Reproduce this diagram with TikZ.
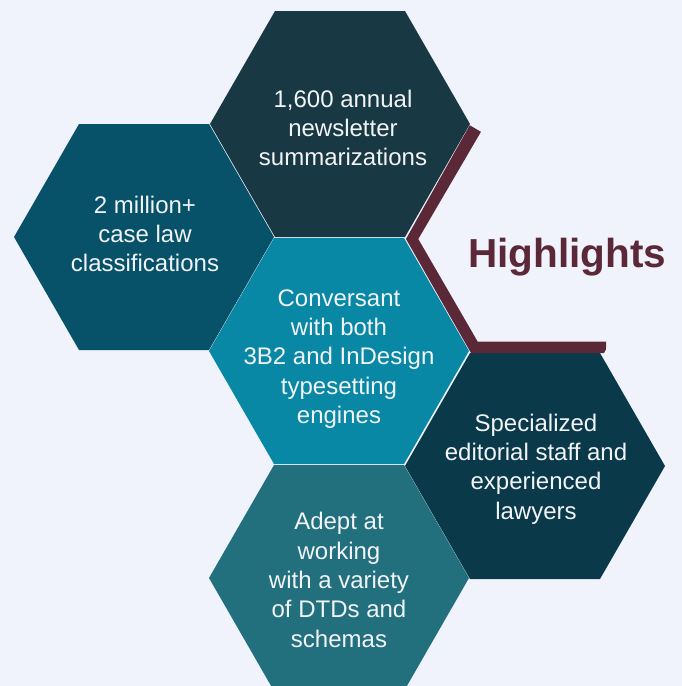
\documentclass[tikz,border=0pt]{standalone}
\usepackage{fontspec}
\setmainfont{Liberation Sans}
\definecolor{bgc}{HTML}{F0F3FC}
\definecolor{hexa}{HTML}{183843}
\definecolor{hexb}{HTML}{075269}
\definecolor{hexc}{HTML}{0888A4}
\definecolor{hexd}{HTML}{0A394A}
\definecolor{hexe}{HTML}{226F7E}
\definecolor{maroonc}{HTML}{5B2838}
\definecolor{txtc}{HTML}{F2F4F8}
\newcommand\hexshape{(130,0) -- (65,-113) -- (-65,-113) -- (-130,0) -- (-65,113) -- (65,113) -- cycle}
\tikzset{
  txt/.style={text=txtc, align=center, inner sep=0pt, font=\fontsize{24}{29.3}\selectfont},
  title/.style={text=maroonc, inner sep=0pt, font=\fontsize{40.5}{44}\selectfont\bfseries},
}
\begin{document}
\begin{tikzpicture}[x=1pt,y=-1pt]
\fill[bgc] (0,0) rectangle (682,686);
\useasboundingbox (0,0) rectangle (682,686);
\begin{scope}
\clip (0,0) rectangle (682,686);
% hexagons
\fill[hexa, shift={(340,124)}] \hexshape;
\fill[hexb, shift={(144,237)}] \hexshape;
\fill[hexc, shift={(339,351)}] \hexshape;
\fill[hexd, shift={(535,466)}] \hexshape;
\fill[hexe, shift={(339,578)}] \hexshape;
% maroon frame of the Highlights cell
\begin{scope}[shift={(536,239)}]
\clip (130,0) -- (65,-116) -- (-65,-116) -- (-130,0) -- (-65,114) -- (68,114) -- cycle;
\draw[maroonc, line width=23pt, line join=miter] (-65,-113) -- (-131,0) -- (-65,114) -- (70,114);
\end{scope}
\end{scope}
% texts
\node[txt] (t1) at (343,128) {1,600 annual\\newsletter\\summarizations};
\node[txt] (t2) at (145,234) {2 million+\\case law\\classifications};
\node[txt] (t3) at (339,359) {Conversant\\with both\\3B2 and InDesign\\typesetting\\engines};
\node[txt] (t4) at (536,469) {Specialized\\editorial staff and\\experienced\\lawyers};
\node[txt] (t5) at (339,580) {Adept at\\working\\with a variety\\of DTDs and\\schemas};
\node[title, anchor=base] (hl) at (567,267) {Highlights};
\end{tikzpicture}
\end{document}
